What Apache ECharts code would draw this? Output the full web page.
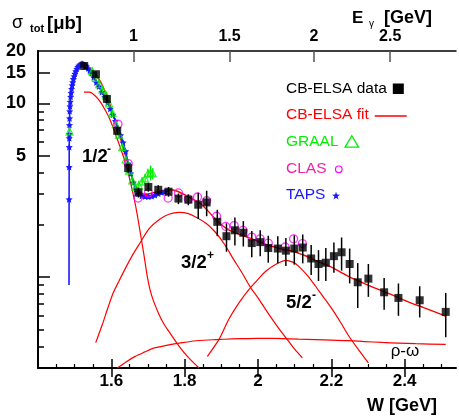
<!DOCTYPE html>
<html>
<head>
<meta charset="utf-8">
<script src="https://cdn.jsdelivr.net/npm/echarts@6/dist/echarts.min.js"></script>
<style>
  html, body { margin: 0; padding: 0; background: #fff; }
  #chart { width: 459px; height: 416px; }
</style>
</head>
<body>
<div id="chart"></div>
<script>
// ---- eta photoproduction total cross section: W [GeV] vs sigma_tot [mu b] ----

// CB-ELSA data with errors
const W_CB   = [1.526, 1.558, 1.588, 1.616, 1.646, 1.674, 1.701, 1.728, 1.756, 1.783, 1.810, 1.837, 1.860, 1.889, 1.914, 1.937, 1.960, 1.983, 2.006, 2.028, 2.054, 2.076, 2.099, 2.122, 2.145, 2.165, 2.185, 2.207, 2.228, 2.250, 2.272, 2.301, 2.344, 2.383, 2.441, 2.512];
const SIG_CB = [16.4, 14.7, 10.6, 6.95, 4.24, 3.07, 3.30, 3.18, 3.10, 2.83, 2.79, 2.61, 2.69, 2.08, 1.72, 1.86, 1.80, 1.57, 1.59, 1.47, 1.46, 1.42, 1.46, 1.48, 1.28, 1.19, 1.21, 1.32, 1.39, 1.19, 0.934, 0.98, 0.818, 0.759, 0.736, 0.631];
const ERR_CB = [0.6, 0.6, 0.5, 0.35, 0.25, 0.2, 0.2, 0.2, 0.2, 0.2, 0.2, 0.45, 0.45, 0.36, 0.32, 0.34, 0.30, 0.27, 0.27, 0.26, 0.26, 0.26, 0.28, 0.28, 0.25, 0.24, 0.26, 0.26, 0.30, 0.27, 0.27, 0.21, 0.17, 0.16, 0.15, 0.18];

// GRAAL data
const W_GRAAL   = [1.486, 1.548, 1.558, 1.567, 1.576, 1.585, 1.594, 1.603, 1.612, 1.621, 1.630, 1.639, 1.648, 1.657, 1.666, 1.675, 1.684, 1.692, 1.700, 1.707, 1.713];
const SIG_GRAAL = [6.9, 15.3, 14.0, 12.9, 12.0, 11.2, 10.0, 8.8, 7.6, 6.6, 5.6, 4.75, 4.1, 3.6, 3.3, 3.38, 3.55, 3.7, 3.95, 4.0, 3.95];
const ERR_GRAAL = [0.3, 0.5, 0.5, 0.45, 0.45, 0.4, 0.4, 0.35, 0.3, 0.3, 0.25, 0.22, 0.2, 0.2, 0.18, 0.2, 0.2, 0.22, 0.25, 0.4, 0.3];

// CLAS data
const W_CLAS   = [1.618, 1.646, 1.673, 1.701, 1.755, 1.783, 1.810, 1.835, 1.860, 1.887, 1.912, 1.935, 1.959, 1.983, 2.006, 2.028, 2.074, 2.097, 2.121];
const SIG_CLAS = [7.6, 4.5, 2.85, 3.05, 2.85, 3.05, 2.81, 2.89, 2.75, 2.24, 1.96, 1.98, 1.86, 1.70, 1.66, 1.57, 1.49, 1.66, 1.56];

// TAPS data
const W_TAPS   = [1.4846, 1.4848, 1.4850, 1.4852, 1.4854, 1.4856, 1.4858, 1.4861, 1.4865, 1.4872, 1.4880, 1.4890, 1.4902, 1.4915, 1.4930, 1.4946, 1.4964, 1.4984, 1.5006, 1.5030, 1.5056, 1.5084, 1.5114, 1.5146, 1.5180, 1.5215, 1.5250, 1.5287, 1.5326, 1.5368, 1.5412, 1.5460, 1.5520, 1.5590, 1.5660, 1.5740, 1.5820, 1.5900, 1.5970, 1.6040, 1.6110, 1.6180, 1.6250, 1.6320, 1.6390, 1.6460, 1.6530, 1.6600, 1.6670, 1.6740, 1.6830, 1.6920, 1.7010, 1.7100, 1.7190, 1.7280, 1.7370, 1.7460];
const SIG_TAPS = [0.9, 2.8, 4.3, 5.6, 6.3, 6.65, 7.5, 8.2, 9.0, 9.6, 10.2, 10.9, 11.5, 12.1, 12.7, 13.2, 13.8, 14.3, 14.8, 15.3, 15.8, 16.2, 16.5, 16.7, 16.9, 16.9, 16.8, 16.6, 16.3, 15.9, 15.4, 14.9, 14.1, 13.2, 12.5, 11.6, 10.9, 10.1, 9.3, 8.6, 7.9, 7.2, 6.55, 5.95, 5.3, 4.5, 3.95, 3.5, 3.2, 3.02, 2.93, 2.91, 2.90, 2.92, 2.96, 3.02, 3.07, 3.10];

// CB-ELSA fit: total and partial-wave contributions
const W_FIT   = [1.540, 1.555, 1.570, 1.585, 1.600, 1.615, 1.630, 1.645, 1.660, 1.675, 1.690, 1.705, 1.720, 1.740, 1.760, 1.780, 1.800, 1.820, 1.840, 1.860, 1.880, 1.900, 1.920, 1.940, 1.960, 1.980, 2.000, 2.020, 2.040, 2.060, 2.080, 2.100, 2.120, 2.140, 2.160, 2.180, 2.200, 2.225, 2.250, 2.275, 2.300, 2.325, 2.350, 2.375, 2.400, 2.425, 2.450, 2.475, 2.500, 2.512];
const SIG_FIT = [15.9, 14.8, 13.4, 11.4, 9.3, 7.4, 5.8, 4.5, 3.6, 3.15, 3.0, 3.02, 3.08, 3.15, 3.18, 3.12, 2.98, 2.82, 2.68, 2.45, 2.20, 2.00, 1.87, 1.79, 1.73, 1.67, 1.61, 1.55, 1.50, 1.46, 1.43, 1.40, 1.35, 1.30, 1.24, 1.19, 1.14, 1.07, 1.00, 0.95, 0.90, 0.855, 0.815, 0.775, 0.735, 0.70, 0.67, 0.64, 0.61, 0.595];

const W_S11   = [1.5256, 1.540, 1.555, 1.570, 1.585, 1.597, 1.6076, 1.625, 1.639, 1.653, 1.6665, 1.680, 1.690, 1.698, 1.706, 1.716, 1.730, 1.745, 1.762, 1.785, 1.810, 1.839];
const SIG_S11 = [11.6, 11.6, 11.1, 10.2, 9.0, 8.0, 7.0, 5.52, 4.53, 3.45, 2.55, 1.75, 1.30, 1.01, 0.84, 0.72, 0.61, 0.53, 0.47, 0.40, 0.345, 0.30];

const W_P13   = [1.5575, 1.575, 1.590, 1.605, 1.621, 1.639, 1.657, 1.6755, 1.703, 1.730, 1.757, 1.785, 1.810, 1.830, 1.860, 1.885, 1.910, 1.930, 1.955, 1.980, 2.000, 2.021, 2.050, 2.080, 2.100, 2.121];
const SIG_P13 = [0.42, 0.53, 0.66, 0.81, 0.95, 1.13, 1.33, 1.54, 1.90, 2.14, 2.30, 2.36, 2.32, 2.22, 2.03, 1.80, 1.53, 1.30, 1.07, 0.87, 0.76, 0.65, 0.53, 0.437, 0.385, 0.343];

const W_D15   = [1.862, 1.894, 1.920, 1.950, 1.9755, 2.000, 2.021, 2.050, 2.0756, 2.095, 2.112, 2.135, 2.157, 2.180, 2.203, 2.225, 2.248, 2.275, 2.301];
const SIG_D15 = [0.35, 0.44, 0.57, 0.72, 0.85, 0.97, 1.08, 1.19, 1.25, 1.22, 1.15, 1.02, 0.886, 0.76, 0.65, 0.55, 0.457, 0.38, 0.321];

const W_RHO   = [1.6164, 1.640, 1.665, 1.690, 1.715, 1.750, 1.794, 1.840, 1.885, 1.930, 1.975, 2.020, 2.066, 2.110, 2.157, 2.200, 2.248, 2.290, 2.339, 2.385, 2.430, 2.512];
const SIG_RHO = [0.30, 0.325, 0.35, 0.37, 0.39, 0.405, 0.42, 0.432, 0.437, 0.441, 0.443, 0.444, 0.443, 0.440, 0.437, 0.434, 0.431, 0.426, 0.421, 0.417, 0.414, 0.41];

// axis ticks and labels
const X_MAJOR  = [1.6, 1.8, 2.0, 2.2, 2.4];
const X_LABELS = ['1.6', '1.8', '2', '2.2', '2.4'];
const X_MINOR  = [1.45, 1.5, 1.55, 1.65, 1.7, 1.75, 1.85, 1.9, 1.95, 2.05, 2.1, 2.15, 2.25, 2.3, 2.35, 2.45, 2.5];
const Y_MAJOR  = [1, 5, 10, 15];
const Y_LABELS = [5, 10, 15, 20];
const Y_MINOR  = [0.4, 0.5, 0.6, 0.7, 0.8, 0.9, 2, 3, 4, 6, 7, 8, 9];
const EG_VALUES = [1, 1.5, 2, 2.5];
const EG_LABELS = ['1', '1.5', '2', '2.5'];

// photon beam energy -> invariant mass on a proton target
const MP = 0.93827;
const EG_W = EG_VALUES.map(e => Math.sqrt(MP * MP + 2 * MP * e));

const W_MIN = 1.4, W_MAX = 2.54, S_MIN = 0.3, S_MAX = 20;
const FONT = '"Liberation Sans", Arial, Helvetica, sans-serif';

const RED = '#ff0000', GREEN = '#00ee00', MAGENTA = '#ff00ff', BLUE = '#1a1aff';
const STAR = 'path://M0,-10L2.94,-4.05L9.51,-3.09L4.76,1.55L5.88,8.09L0,5L-5.88,8.09L-4.76,1.55L-9.51,-3.09L-2.94,-4.05Z';

const pairs = (xs, ys) => xs.map((x, i) => [x, ys[i]]);

function curve(name, xs, ys, color, width, z) {
  return {
    name, type: 'line', data: pairs(xs, ys), symbol: 'none', smooth: 0.25,
    lineStyle: { color, width }, z, silent: true
  };
}

function errorBars(name, xs, ys, errs, color, width, z) {
  return {
    name, type: 'custom', z, silent: true,
    data: xs.map((x, i) => [x, ys[i] - errs[i], ys[i] + errs[i]]),
    encode: { x: 0, y: [1, 2] },
    renderItem: (params, api) => {
      const x = api.value(0);
      const p1 = api.coord([x, api.value(1)]);
      const p2 = api.coord([x, api.value(2)]);
      return {
        type: 'line',
        shape: { x1: p1[0], y1: p1[1], x2: p2[0], y2: p2[1] },
        style: { stroke: color, lineWidth: width }
      };
    }
  };
}

const baseX = { type: 'value', min: W_MIN, max: W_MAX, splitLine: { show: false } };
const baseY = { type: 'log', logBase: 10, min: S_MIN, max: S_MAX, splitLine: { show: false } };
const black = { color: '#000', width: 1.5 };

const xAxes = [
  Object.assign({}, baseX, {
    position: 'bottom',
    axisLine: { show: true, onZero: false, lineStyle: { color: '#000', width: 2 } },
    axisTick: { show: true, inside: true, length: 9, customValues: X_MAJOR, lineStyle: black },
    axisLabel: {
      show: true, customValues: X_MAJOR, margin: 5,
      color: '#000', fontFamily: FONT, fontWeight: 'bold', fontSize: 17,
      formatter: v => X_LABELS[X_MAJOR.findIndex(t => Math.abs(t - v) < 1e-6)]
    }
  }),
  Object.assign({}, baseX, {
    position: 'bottom',
    axisLine: { show: false },
    axisTick: { show: true, inside: false, length: 9, customValues: X_MAJOR, lineStyle: black },
    axisLabel: { show: false }
  }),
  Object.assign({}, baseX, {
    position: 'bottom',
    axisLine: { show: false },
    axisTick: { show: true, inside: true, length: 4, customValues: X_MINOR, lineStyle: { color: '#000', width: 1.2 } },
    axisLabel: { show: false }
  }),
  Object.assign({}, baseX, {
    position: 'top',
    axisLine: { show: true, onZero: false, lineStyle: { color: '#000', width: 1.5 } },
    axisTick: { show: true, inside: true, length: 11, customValues: EG_W, lineStyle: { color: '#555', width: 1.5 } },
    axisLabel: {
      show: true, customValues: EG_W, margin: 6,
      color: '#000', fontFamily: FONT, fontWeight: 'bold', fontSize: 16,
      formatter: v => EG_LABELS[EG_W.findIndex(t => Math.abs(t - v) < 1e-6)]
    }
  })
];

const yAxes = [
  Object.assign({}, baseY, {
    position: 'left',
    axisLine: { show: true, onZero: false, lineStyle: { color: '#000', width: 2 } },
    axisTick: { show: true, inside: true, length: 12, customValues: Y_MAJOR, lineStyle: black },
    axisLabel: {
      show: true, customValues: Y_LABELS, margin: 12,
      color: '#000', fontFamily: FONT, fontWeight: 'bold', fontSize: 18,
      formatter: v => String(Math.round(v))
    }
  }),
  Object.assign({}, baseY, {
    position: 'left',
    axisLine: { show: false },
    axisTick: { show: true, inside: true, length: 6, customValues: Y_MINOR, lineStyle: black },
    axisLabel: { show: false }
  })
];

const tapsData = pairs(W_TAPS, SIG_TAPS).map((p, i) => i === 0 ? { value: p, symbol: 'none' } : p);

const series = [
  curve('1/2-', W_S11, SIG_S11, RED, 1.2, 2),
  curve('3/2+', W_P13, SIG_P13, RED, 1.2, 2),
  curve('5/2-', W_D15, SIG_D15, RED, 1.2, 2),
  curve('rho-omega', W_RHO, SIG_RHO, RED, 1.2, 2),
  curve('CB-ELSA fit', W_FIT, SIG_FIT, RED, 1.4, 3),
  {
    name: 'TAPS', type: 'line', data: tapsData, z: 4, silent: true,
    symbol: STAR, symbolSize: 7, symbolKeepAspect: true, showAllSymbol: true,
    itemStyle: { color: BLUE }, lineStyle: { color: BLUE, width: 1.6 }
  },
  errorBars('GRAAL err', W_GRAAL, SIG_GRAAL, ERR_GRAAL, GREEN, 1.2, 5),
  {
    name: 'GRAAL', type: 'scatter', data: pairs(W_GRAAL, SIG_GRAAL), z: 5, silent: true,
    symbol: 'triangle', symbolSize: 7,
    itemStyle: { color: 'rgba(255,255,255,0)', borderColor: GREEN, borderWidth: 1.2 }
  },
  {
    name: 'CLAS', type: 'scatter', data: pairs(W_CLAS, SIG_CLAS), z: 6, silent: true,
    symbol: 'circle', symbolSize: 8,
    itemStyle: { color: 'rgba(255,255,255,0)', borderColor: MAGENTA, borderWidth: 1.3 }
  },
  errorBars('CB-ELSA err', W_CB, SIG_CB, ERR_CB, '#000', 1.5, 7),
  {
    name: 'CB-ELSA data', type: 'scatter', data: pairs(W_CB, SIG_CB), z: 7, silent: true,
    symbol: 'rect', symbolSize: 8, itemStyle: { color: '#000' }
  }
];

// legend: coloured text followed by its marker
const LEG_FONT_SIZE = 15.5;
const measure = document.createElement('canvas').getContext('2d');
measure.font = LEG_FONT_SIZE + 'px ' + FONT;
const LEG_X = 286;
const legendRows = [
  { text: 'CB-ELSA data', color: '#000', y: 89, icon: 'square', gap: 6 },
  { text: 'CB-ELSA fit', color: RED, y: 115, icon: 'line', gap: 6 },
  { text: 'GRAAL', color: GREEN, y: 141.7, icon: 'triangle', gap: 6.5 },
  { text: 'CLAS', color: '#ee22aa', y: 168.3, icon: 'circle', gap: 9 },
  { text: 'TAPS', color: BLUE, y: 195, icon: 'star', gap: 7 }
];

function starPoints(cx, cy, ro, ri) {
  const pts = [];
  for (let k = 0; k < 10; k++) {
    const r = k % 2 === 0 ? ro : ri;
    const a = -Math.PI / 2 + k * Math.PI / 5;
    pts.push([cx + r * Math.cos(a), cy + r * Math.sin(a)]);
  }
  return pts;
}

const graphics = [];
legendRows.forEach(row => {
  graphics.push({
    type: 'text', x: LEG_X, y: row.y, silent: true,
    style: { text: row.text, fill: row.color, font: LEG_FONT_SIZE + 'px ' + FONT, align: 'left', verticalAlign: 'middle' }
  });
  const x0 = LEG_X + measure.measureText(row.text).width + row.gap;
  if (row.icon === 'square') {
    graphics.push({ type: 'rect', silent: true, shape: { x: x0, y: row.y - 5.5, width: 11, height: 10.5 }, style: { fill: '#000' } });
  } else if (row.icon === 'line') {
    graphics.push({ type: 'line', silent: true, shape: { x1: x0, y1: row.y + 1, x2: x0 + 32, y2: row.y + 1 }, style: { stroke: RED, lineWidth: 1.5 } });
  } else if (row.icon === 'triangle') {
    graphics.push({ type: 'polygon', silent: true, shape: { points: [[x0, row.y + 5.5], [x0 + 13.5, row.y + 5.5], [x0 + 6.75, row.y - 6]] }, style: { fill: 'none', stroke: GREEN, lineWidth: 1.3 } });
  } else if (row.icon === 'circle') {
    graphics.push({ type: 'circle', silent: true, shape: { cx: x0 + 3.3, cy: row.y + 1, r: 3.3 }, style: { fill: 'none', stroke: MAGENTA, lineWidth: 1.2 } });
  } else if (row.icon === 'star') {
    graphics.push({ type: 'polygon', silent: true, shape: { points: starPoints(x0 + 3.7, row.y + 1, 4.2, 1.7) }, style: { fill: BLUE } });
  }
});

// plain text annotations
function label(text, x, y, size, weight, align, color) {
  return {
    type: 'text', x, y, silent: true,
    style: { text, fill: color || '#000', font: (weight || 'normal') + ' ' + size + 'px ' + FONT, align: align || 'left', verticalAlign: 'middle' }
  };
}

graphics.push(
  // axis titles
  label('\u03c3', 12, 23, 18, 'normal'),
  label('tot', 30, 29, 11, 'bold'),
  label('[\u03bcb]', 47, 24, 18.5, 'bold'),
  label('E', 352, 18, 17, 'bold'),
  label('\u03b3', 369, 24, 10, 'normal'),
  label('[GeV]', 432, 18, 18, 'bold', 'right'),
  label('W [GeV]', 437, 406, 18, 'bold', 'right'),
  // partial-wave labels
  label('1/2', 82, 157, 18.5, 'bold'),
  label('-', 107, 150, 12, 'bold'),
  label('3/2', 181, 263, 18.5, 'bold'),
  label('+', 207, 256, 12, 'bold'),
  label('5/2', 286, 302.5, 18.5, 'bold'),
  label('-', 312, 296, 12, 'bold'),
  label('\u03c1-\u03c9', 405, 351, 17, 'normal', 'center')
);

const chart = echarts.init(document.getElementById('chart'), null, { renderer: 'canvas' });
chart.setOption({
  animation: false,
  backgroundColor: '#fff',
  grid: { left: 38, top: 51, right: 3, bottom: 48, containLabel: false, outerBoundsMode: 'none' },
  xAxis: xAxes,
  yAxis: yAxes,
  series: series.map(s => Object.assign({ xAxisIndex: 0, yAxisIndex: 0 }, s)),
  graphic: graphics
});
</script>
</body>
</html>
